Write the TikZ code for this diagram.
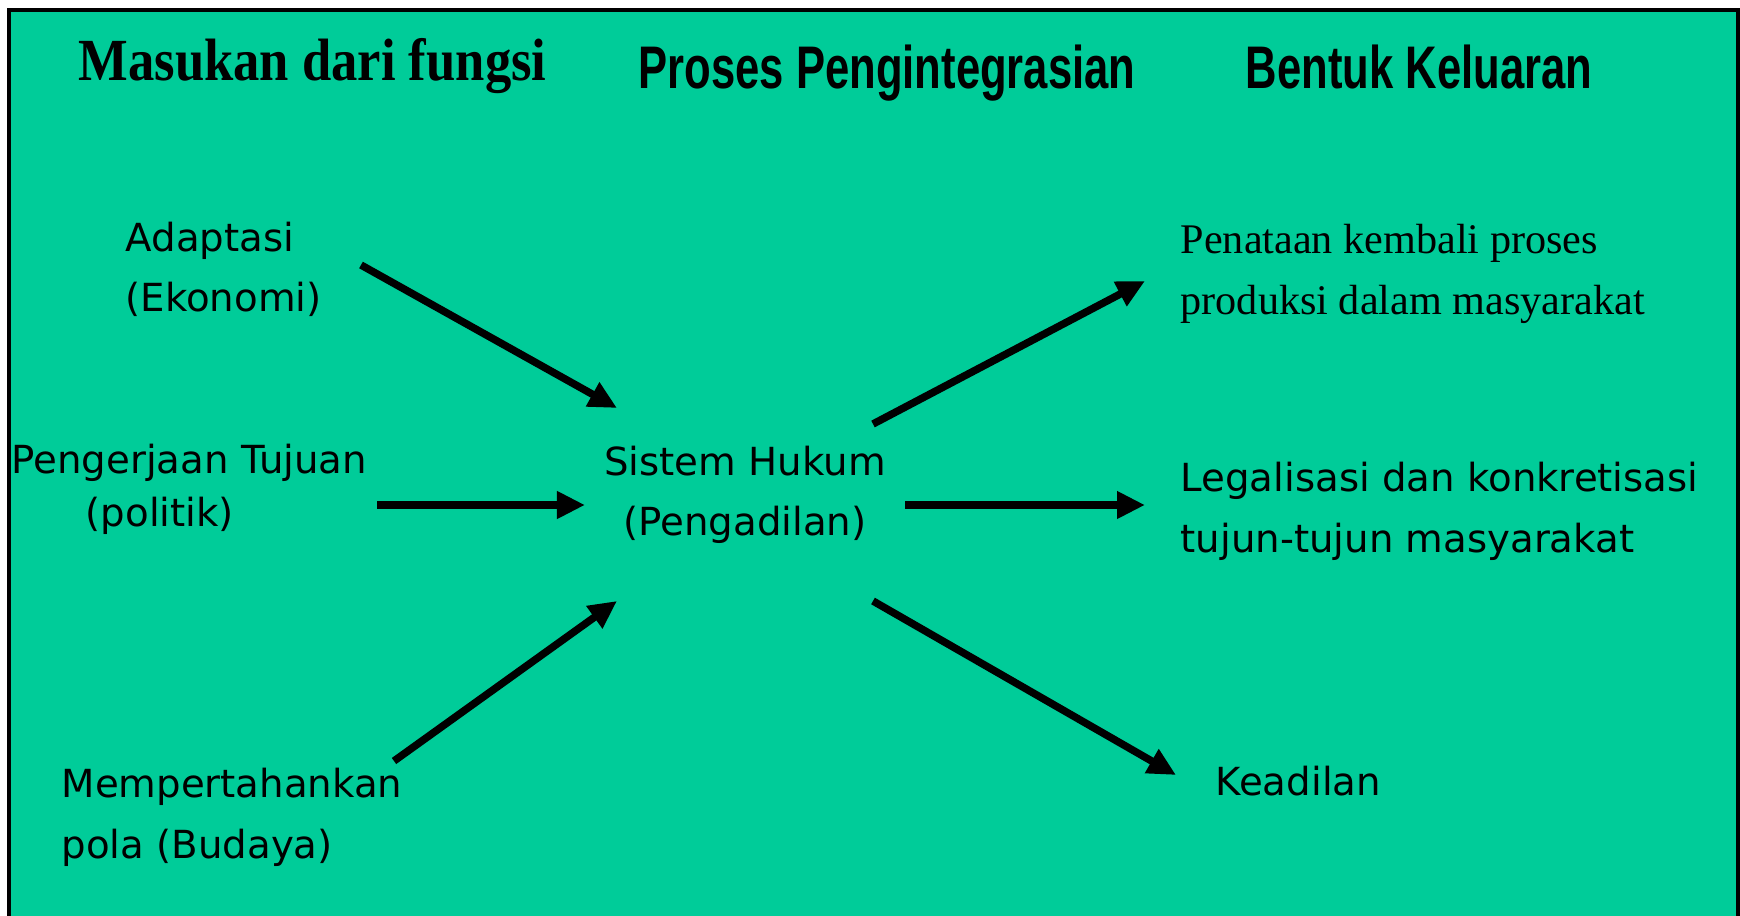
\documentclass[tikz,border=0pt]{standalone}
\usepackage{fontspec}
\setmainfont{Liberation Serif}
\newfontfamily\casualfont{DejaVu Sans}
\newfontfamily\headfont[FakeStretch=0.725]{Liberation Sans}
\newfontfamily\serifheadfont[FakeStretch=0.88]{Liberation Serif}
\usetikzlibrary{arrows.meta}
\definecolor{slidegreen}{RGB}{0,204,153}
\tikzset{>={Triangle[length=0.28cm,width=0.26cm]}}
\tikzset{
    serifhead/.style={inner sep=0pt,anchor=base west,font=\serifheadfont\bfseries\fontsize{17}{20}\selectfont},
    sanshead/.style={inner sep=0pt,anchor=base west,font=\headfont\bfseries\fontsize{17.1}{20}\selectfont},
    casual/.style={inner sep=0pt,anchor=base west,align=left,font=\casualfont\fontsize{11}{17.1}\selectfont},
    serifbody/.style={inner sep=0pt,anchor=base west,align=left,font=\fontsize{12}{17.4}\selectfont},
    flow/.style={->,line width=0.075cm},
}
\newcommand{\flowarrow}[4]{
    \coordinate (#1) at (#3);
    \coordinate (#2) at (#4);
    \draw[flow] (#1) -- (#2);
}

\begin{document}
\begin{tikzpicture}[x=0.01cm,y=-0.01cm]
            \useasboundingbox (0,0) rectangle (1740,916);
            \clip (0,0) rectangle (1740,916);
            \fill[white] (0,0) rectangle (1740,916);
            \draw[line width=0.035cm,fill=slidegreen] (9,10) rectangle (1738,940);
            % column headings
            \node[serifhead] (masukan) at (78,81) {Masukan dari fungsi};
            \node[sanshead] (proses) at (638,89) {Proses Pengintegrasian};
            \node[sanshead] (bentuk) at (1245,89) {Bentuk Keluaran};
            % inputs (base = last line)
            \node[casual] (adaptasi) at (125,312) {Adaptasi\\(Ekonomi)};
            \node[casual] (tujuan) at (11,527) {Pengerjaan Tujuan\\[-0.065cm]\hspace*{0.74cm}(politik)};
            \node[casual] (budaya) at (61,858) {Mempertahankan\\pola (Budaya)};
            % centre
            \node[casual,anchor=base,align=center] (hukum) at (745,536) {Sistem Hukum\\(Pengadilan)};
            % outputs
            \node[serifbody] (penataan) at (1180,315) {Penataan kembali proses\\produksi dalam masyarakat};
            \node[casual] (legal) at (1180,552) {Legalisasi dan konkretisasi\\tujun-tujun masyarakat};
            \node[casual] (keadilan) at (1215,795) {Keadilan};
            % arrows
            \flowarrow{adaptasi-out}{hukum-in1}{361,265}{617,408}
            \flowarrow{tujuan-out}{hukum-in2}{377,505}{585,505}
            \flowarrow{budaya-out}{hukum-in3}{394,761}{617,601}
            \flowarrow{hukum-out1}{penataan-in}{873,424}{1145,281}
            \flowarrow{hukum-out2}{legal-in}{905,505}{1145,505}
            \flowarrow{hukum-out3}{keadilan-in}{873,601}{1176,775}
        \end{tikzpicture}
\end{document}
